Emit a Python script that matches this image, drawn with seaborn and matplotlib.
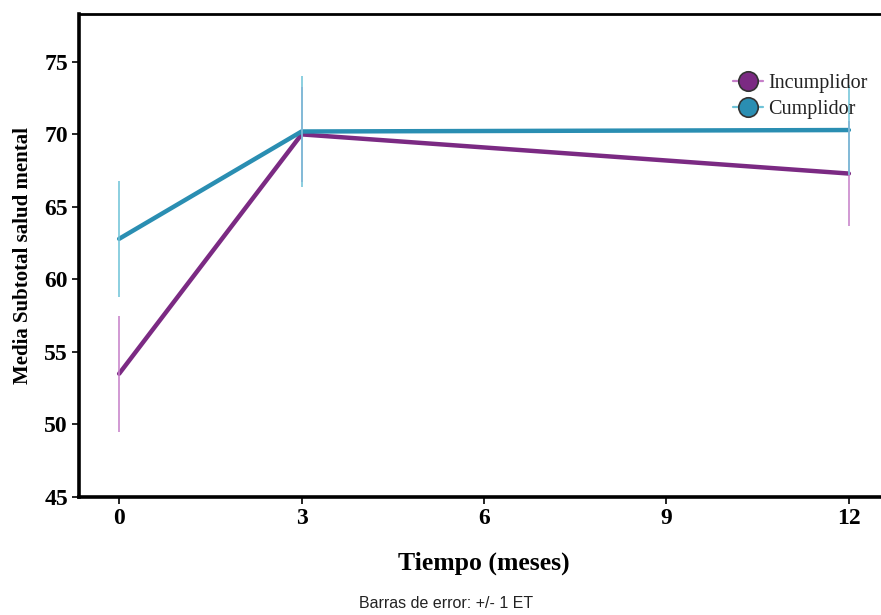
import numpy as np
import pandas as pd
import matplotlib
matplotlib.use("Agg")
import matplotlib.pyplot as plt
from matplotlib.lines import Line2D
import seaborn as sns

# Mean mental-health subtotal by follow-up month and adherence group
meses = [0, 3, 12]
grupos = ["Incumplidor", "Cumplidor"]
media_incumplidor = [53.5, 70.0, 67.3]
media_cumplidor = [62.8, 70.2, 70.3]
et_incumplidor = [4.0, 3.3, 3.6]
et_cumplidor = [4.0, 3.8, 3.1]

colores = {"Incumplidor": "#7b2a83", "Cumplidor": "#2a8eb2"}
colores_err = {"Incumplidor": "#c67fc9", "Cumplidor": "#6fc3d8"}

df = pd.DataFrame({
    "Tiempo": meses * 2,
    "Media": media_incumplidor + media_cumplidor,
    "ET": et_incumplidor + et_cumplidor,
    "Grupo": [grupos[0]] * len(meses) + [grupos[1]] * len(meses),
})

sns.set_style("white")
serif = ["Liberation Serif", "DejaVu Serif"]

fig = plt.figure(figsize=(8.81, 6.15), dpi=100)
ax = fig.add_axes([79 / 881, 118 / 615, 810 / 881, 483 / 615])

sns.lineplot(data=df, x="Tiempo", y="Media", hue="Grupo", hue_order=grupos,
             palette=colores, linewidth=3.2, legend=False, ax=ax, zorder=3)

# +/- 1 SE error bars
for g in grupos:
    sub = df[df["Grupo"] == g]
    ax.vlines(sub["Tiempo"], sub["Media"] - sub["ET"], sub["Media"] + sub["ET"],
              colors=colores_err[g], linewidth=1.4, alpha=0.8, zorder=4)

ax.set_xlim(-0.66, 12.66)
ax.set_ylim(45, 78.3)
ax.set_xticks([0, 3, 6, 9, 12])
ax.set_yticks([45, 50, 55, 60, 65, 70, 75])

for side in ["left", "bottom"]:
    ax.spines[side].set_linewidth(2.6)
ax.spines["top"].set_linewidth(2.0)
ax.spines["right"].set_visible(False)
for s in ax.spines.values():
    s.set_color("black")

ax.tick_params(axis="both", which="major", direction="out", length=5, width=1.2,
               colors="black", left=True, bottom=True, pad=3)
for lab in ax.get_xticklabels() + ax.get_yticklabels():
    lab.set_family(serif)
    lab.set_fontweight("bold")
    lab.set_fontsize(17)
    lab.set_color("black")

ax.set_xlabel("Tiempo (meses)", family=serif, fontweight="bold", fontsize=18.5,
              labelpad=16, color="black")
ax.set_ylabel("Media Subtotal salud mental", family=serif, fontweight="bold", fontsize=15,
              labelpad=8, color="black")

handles = [
    Line2D([0], [0], color=colores_err[g], linewidth=1.6, marker="o", markersize=14,
           markerfacecolor=colores[g], markeredgecolor="#333333", markeredgewidth=1.2)
    for g in grupos
]
fig.legend(handles, grupos, loc="upper left", bbox_to_anchor=(733 / 881, 1 - 74 / 615),
           frameon=False, prop={"family": serif, "size": 14.5}, handlelength=1.5,
           handletextpad=0.25, labelspacing=0.33, borderaxespad=0, borderpad=0,
           labelcolor="#222222")

fig.text(446 / 881, 1 - 604 / 615, "Barras de error: +/- 1 ET", ha="center", va="center",
         family=["Liberation Sans", "DejaVu Sans"], fontsize=11.5, color="#222222")

fig.savefig("out.png", dpi=100)
